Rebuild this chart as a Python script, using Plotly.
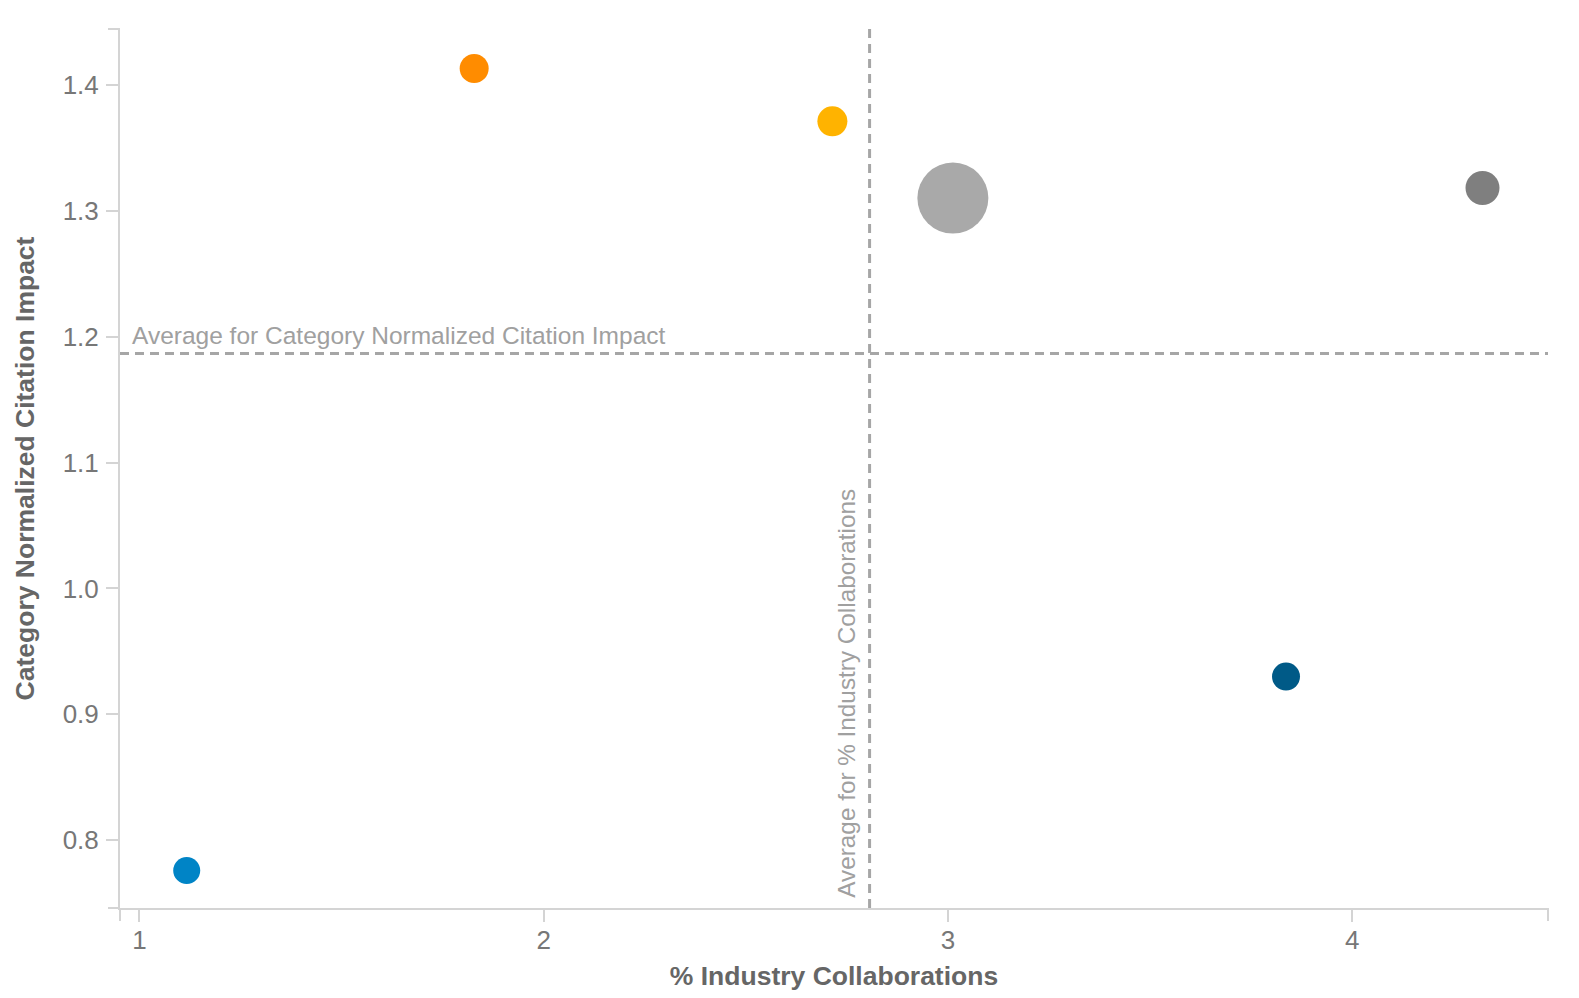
import plotly.graph_objects as go

# Data
pct_industry = [1.117, 1.828, 2.714, 3.012, 4.322, 3.836]
cnci = [0.776, 1.413, 1.371, 1.310, 1.318, 0.930]
bubble_size = [27, 29, 30, 71, 34, 28]
colors = ["#0084C6", "#FF8C00", "#FFB300", "#A9A9A9", "#7F7F7F", "#005A87"]
avg_pct = 2.806
avg_cnci = 1.1865
x_ticks = [1, 2, 3, 4]
y_ticks = [0.8, 0.9, 1.0, 1.1, 1.2, 1.3, 1.4]

FONT = "Liberation Sans, Arial, sans-serif"
AXIS_COL = "#d4d4d4"
REF_COL = "#a6a6a6"

fig = go.Figure()
fig.add_trace(go.Scatter(
    x=pct_industry, y=cnci, mode="markers",
    marker=dict(size=bubble_size, sizemode="diameter", color=colors, line=dict(width=0), opacity=1),
    showlegend=False, hoverinfo="x+y"))

# average lines
fig.add_shape(type="line", xref="x", yref="paper", x0=avg_pct, x1=avg_pct, y0=0, y1=1,
              line=dict(color=REF_COL, width=3, dash="9px,6px"), layer="below")
fig.add_shape(type="line", xref="paper", yref="y", x0=0, x1=1, y0=avg_cnci, y1=avg_cnci,
              line=dict(color=REF_COL, width=3, dash="9px,6px"), layer="below")

fig.add_annotation(xref="paper", yref="y", x=0.007, y=avg_cnci, yshift=3,
                   text="Average for Category Normalized Citation Impact",
                   showarrow=False, xanchor="left", yanchor="bottom",
                   font=dict(family=FONT, size=24.5, color="#a0a0a0"))
fig.add_annotation(xref="x", yref="paper", x=avg_pct, y=0.009, xshift=-7,
                   text="Average for % Industry Collaborations", textangle=-90,
                   showarrow=False, xanchor="right", yanchor="bottom",
                   font=dict(family=FONT, size=24.3, color="#a0a0a0"))

# axis end caps / extensions
fig.add_shape(type="line", xref="paper", yref="paper", xsizemode="pixel", xanchor=0,
              x0=0, x1=-12, y0=1, y1=1, line=dict(color=AXIS_COL, width=2))
fig.add_shape(type="line", xref="paper", yref="paper", ysizemode="pixel", yanchor=0,
              x0=0, x1=0, y0=0, y1=-13, line=dict(color=AXIS_COL, width=2))
fig.add_shape(type="line", xref="paper", yref="paper", xsizemode="pixel", xanchor=0,
              x0=0, x1=-12, y0=0, y1=0, line=dict(color=AXIS_COL, width=2))
fig.add_shape(type="line", xref="paper", yref="paper", ysizemode="pixel", yanchor=0,
              x0=1, x1=1, y0=0, y1=-13, line=dict(color=AXIS_COL, width=2))

fig.update_layout(
    autosize=True,
    margin=dict(l=120, r=31, t=29, b=80),
    paper_bgcolor="white", plot_bgcolor="white",
    font=dict(family=FONT),
    xaxis=dict(range=[0.952, 4.484], tickvals=x_ticks, showgrid=False, zeroline=False,
               showline=True, linecolor=AXIS_COL, linewidth=2,
               ticks="outside", ticklen=12, tickcolor=AXIS_COL, tickwidth=2,
               ticklabelstandoff=-4,
               tickfont=dict(size=26, color="#777777"),
               title=dict(text="<b>% Industry Collaborations</b>", standoff=12,
                          font=dict(size=26.5, color="#666666"))),
    yaxis=dict(range=[0.7462, 1.4443], tickvals=y_ticks, tickformat=".1f", showgrid=False, zeroline=False,
               showline=True, linecolor=AXIS_COL, linewidth=2,
               ticks="outside", ticklen=12, tickcolor=AXIS_COL, tickwidth=2,
               ticklabelstandoff=2,
               tickfont=dict(size=26, color="#777777"),
               title=dict(text="<b>Category Normalized Citation Impact</b>", standoff=20,
                          font=dict(size=26.5, color="#666666"))),
)

fig.write_html("out.html",
               config={"displayModeBar": False, "responsive": True},
               default_width="100vw", default_height="100vh",
               post_script="document.body.style.margin='0';document.body.style.overflow='hidden';"
                           "document.documentElement.style.overflow='hidden';"
                           "Plotly.Plots.resize(document.getElementsByClassName('plotly-graph-div')[0]);")
